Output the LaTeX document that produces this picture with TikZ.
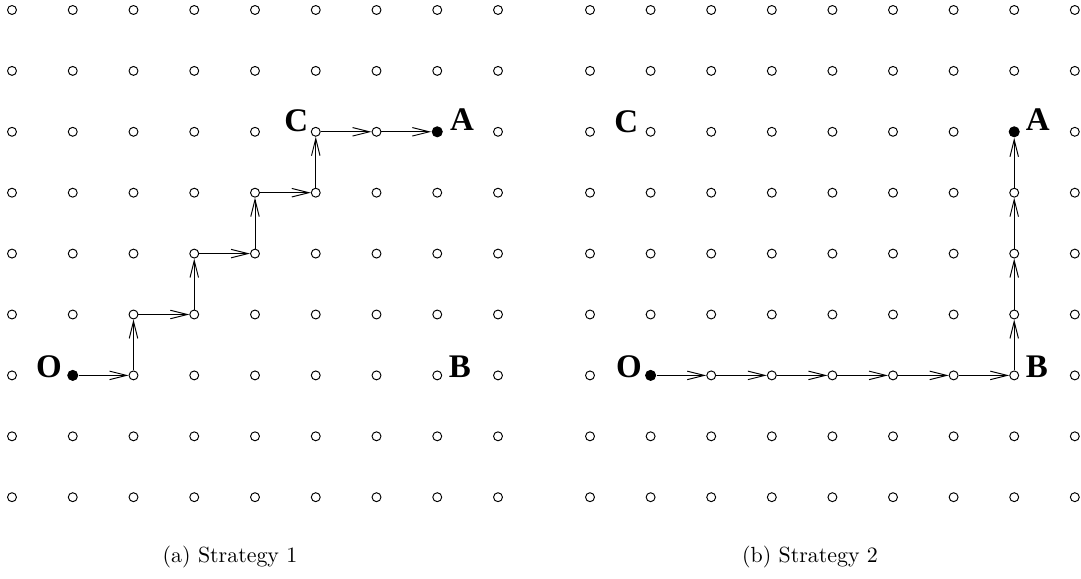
\documentclass[tikz,border=0pt]{standalone}
\usepackage{fontspec}
\newfontfamily\lblfont{Liberation Serif}
\usetikzlibrary{arrows.meta}
\begin{document}
\begin{tikzpicture}[x=0.47pt,y=-0.47pt,
  gridpt/.style={circle,draw,line width=0.45pt,inner sep=0pt,minimum size=4.2pt},
  fullpt/.style={circle,fill,inner sep=0pt,minimum size=5.2pt},
  lbl/.style={font=\lblfont\bfseries\fontsize{15.5}{17}\selectfont,inner sep=0pt},
  captext/.style={font=\fontsize{10.3}{12}\selectfont},
  conn/.style={line width=0.45pt,-{Straight Barb[length=8pt,width=4pt,line width=0.45pt]}}]
\useasboundingbox (0,0) rectangle (1081,579);
% grids
\foreach \i in {0,...,8}{
  \foreach \j in {0,...,8}{
    \node[gridpt] (L\i-\j) at ({12+60.75*\i},{10+60.9*\j}) {};
    \node[gridpt] (R\i-\j) at ({590+60.6*\i},{10+60.9*\j}) {};
  }
}
% special points
\node[fullpt] (LO) at (L1-6.center) {};
\node[fullpt] (LA) at (L7-2.center) {};
\node[fullpt] (RO) at (R1-6.center) {};
\node[fullpt] (RA) at (R7-2.center) {};
% labels
\node[lbl,anchor=base east] (lO) at ([xshift=-5pt,yshift=-1pt]LO.center) {O};
\node[lbl,anchor=base east] (lC) at ([xshift=-3.4pt]L5-2.center) {C};
\node[lbl,anchor=base west] (lA) at ([xshift=5.8pt,yshift=0.5pt]LA.center) {A};
\node[lbl,anchor=base west] (lB) at ([xshift=5.3pt,yshift=-1pt]L7-6.center) {B};
\node[lbl,anchor=base east] (rO) at ([xshift=-4pt,yshift=-1pt]RO.center) {O};
\node[lbl,anchor=base east] (rC) at ([xshift=-5.6pt,yshift=-0.5pt]R1-2.center) {C};
\node[lbl,anchor=base west] (rA) at ([xshift=5.3pt,yshift=0.5pt]RA.center) {A};
\node[lbl,anchor=base west] (rB) at ([xshift=5.3pt,yshift=-1pt]R7-6.center) {B};
% strategy 1 path
\draw[conn] (LO) -- (L2-6);
\draw[conn] (L2-6) -- (L2-5);
\draw[conn] (L2-5) -- (L3-5);
\draw[conn] (L3-5) -- (L3-4);
\draw[conn] (L3-4) -- (L4-4);
\draw[conn] (L4-4) -- (L4-3);
\draw[conn] (L4-3) -- (L5-3);
\draw[conn] (L5-3) -- (L5-2);
\draw[conn] (L5-2) -- (L6-2);
\draw[conn] (L6-2) -- (LA);
% strategy 2 path
\draw[conn] (RO) -- (R2-6);
\draw[conn] (R2-6) -- (R3-6);
\draw[conn] (R3-6) -- (R4-6);
\draw[conn] (R4-6) -- (R5-6);
\draw[conn] (R5-6) -- (R6-6);
\draw[conn] (R6-6) -- (R7-6);
\draw[conn] (R7-6) -- (R7-5);
\draw[conn] (R7-5) -- (R7-4);
\draw[conn] (R7-4) -- (R7-3);
\draw[conn] (R7-3) -- (RA);
% captions
\node[captext] (capa) at (230,557) {(a) Strategy 1};
\node[captext] (capb) at (810,557) {(b) Strategy 2};
\end{tikzpicture}
\end{document}
